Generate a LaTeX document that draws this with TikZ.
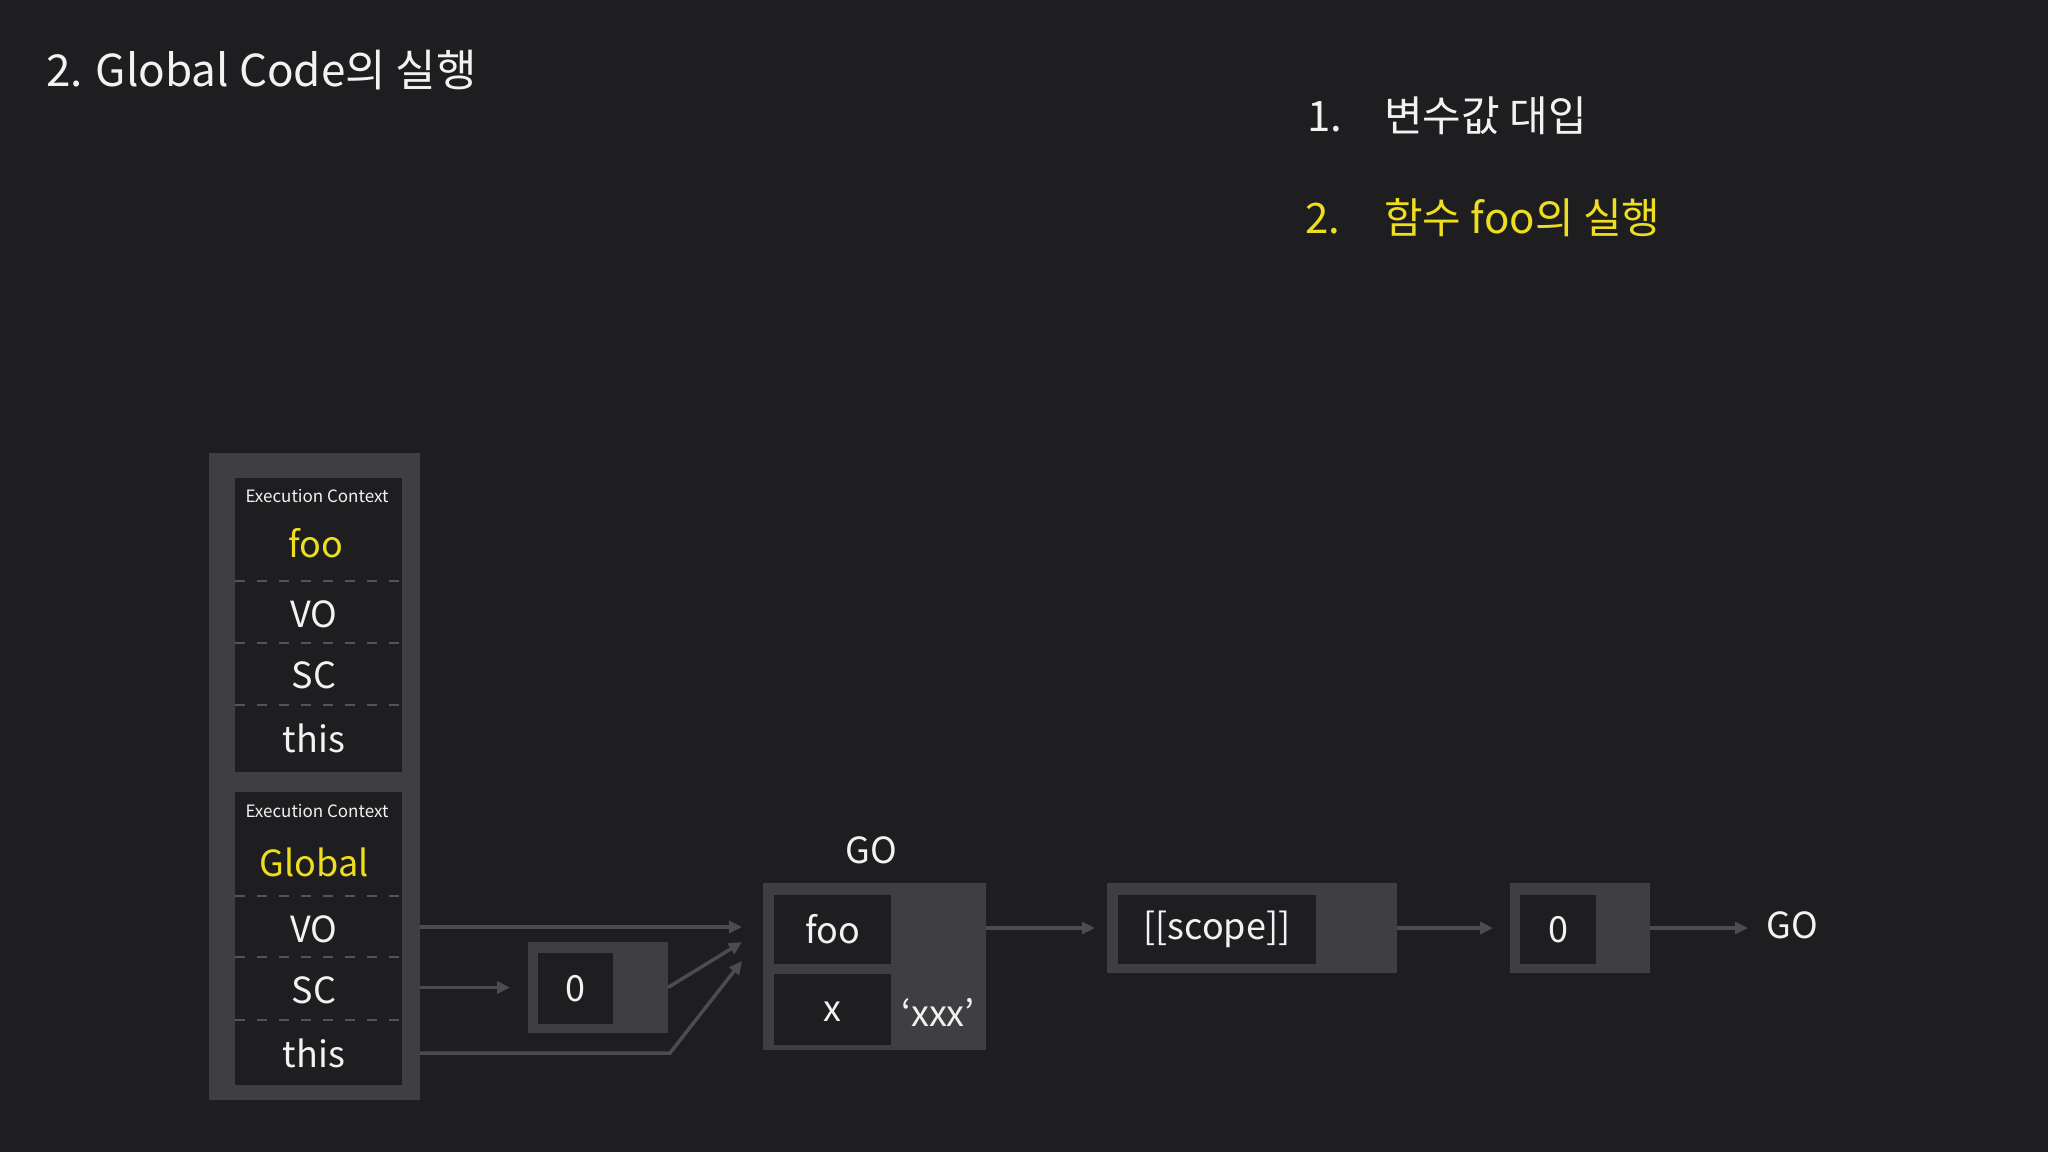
\documentclass[tikz,border=0pt]{standalone}
\usepackage{fontspec}
\setmainfont{Noto Sans CJK KR}
\usepackage{xcolor}
\usetikzlibrary{arrows.meta}
\definecolor{bgcol}{RGB}{30,30,32}
\definecolor{boxgray}{RGB}{63,62,65}
\definecolor{cellcol}{RGB}{30,29,32}
\definecolor{arrowgray}{RGB}{76,76,78}
\definecolor{dashgray}{RGB}{84,84,87}
\definecolor{hiyellow}{RGB}{238,222,32}
\definecolor{txtwhite}{RGB}{242,242,242}

\begin{document}
\begin{tikzpicture}[x=1pt,y=-1pt,
		panel/.style={fill=boxgray,inner sep=0pt,outer sep=0pt},
		cell/.style={fill=cellcol,inner sep=0pt,outer sep=0pt},
		word/.style={text=txtwhite,inner sep=0pt,font=\fontsize{36}{40}\selectfont},
		hiword/.style={word,text=hiyellow},
		ectag/.style={word,font=\fontsize{17}{20}\selectfont},
		headline/.style={word,anchor=base west,font=\fontsize{42}{48}\selectfont},
		rowline/.style={draw=dashgray,line width=2.5pt,dash pattern=on 10pt off 12pt},
		link/.style={draw=arrowgray,line width=3.5pt,-{Triangle[length=13pt,width=12pt]}}]
		\fill[bgcol] (0,0) rectangle (2048,1152);
		\useasboundingbox (0,0) rectangle (2048,1152);
		
		\node[word,anchor=base west,font=\fontsize{44}{50}\selectfont] (title) at (46,86) {2. Global Code의 실행};
		\node[headline] (num1) at (1307,131) {1.};
		\node[headline] (step1) at (1384,131) {변수값 대입};
		\node[headline,text=hiyellow] (num2) at (1305,233) {2.};
		\node[headline,text=hiyellow] (step2) at (1384,233) {함수 foo의 실행};
		
		\node[panel,minimum width=211pt,minimum height=647pt] (stack) at (314,776.5) {};
		\node[cell,minimum width=167pt,minimum height=294pt] (fooctx) at (318.5,625) {};
		\node[cell,minimum width=167pt,minimum height=293pt] (globalctx) at (318.5,938.5) {};
		
		\node[ectag] (fooec) at (317,496) {Execution Context};
		\node[hiword] (foolbl) at (316,543) {foo};
		\node[word] (foovo) at (314,614) {VO};
		\node[word] (foosc) at (314,675) {SC};
		\node[word] (foothis) at (314,738) {this};
		\draw[rowline] (fooctx.west |- 0,581) -- (fooctx.east |- 0,581);
		\draw[rowline] (fooctx.west |- 0,643) -- (fooctx.east |- 0,643);
		\draw[rowline] (fooctx.west |- 0,705) -- (fooctx.east |- 0,705);
		
		\node[ectag] (gec) at (317,811) {Execution Context};
		\node[hiword] (glbl) at (314,862) {Global};
		\node[word] (gvo) at (314,929) {VO};
		\node[word] (gsc) at (314,990) {SC};
		\node[word] (gthis) at (314,1053) {this};
		\draw[rowline] (globalctx.west |- 0,896) -- (globalctx.east |- 0,896);
		\draw[rowline] (globalctx.west |- 0,957) -- (globalctx.east |- 0,957);
		\draw[rowline] (globalctx.west |- 0,1020) -- (globalctx.east |- 0,1020);
		
		\node[panel,minimum width=140pt,minimum height=91pt] (zerobox) at (598,987.5) {};
		\node[cell,minimum width=75pt,minimum height=71pt] (zerocell) at (575.5,988.5) {};
		\node[word] (zeroval) at (zerocell) {0};
		
		\node[word] (golbl) at (871,850) {GO};
		\node[panel,minimum width=223pt,minimum height=167pt] (gobox) at (874.5,966.5) {};
		\node[cell,minimum width=117pt,minimum height=69pt] (foocell) at (832.5,929.5) {};
		\node[cell,minimum width=117pt,minimum height=71pt] (xcell) at (832.5,1009.5) {};
		\node[word] (fooname) at (foocell) {foo};
		\node[word] (xname) at (832.5,1012) {x};
		\node[word] (xval) at (938,1012) {‘xxx’};
		
		\node[panel,minimum width=290pt,minimum height=90pt] (scopebox) at (1252,928) {};
		\node[cell,minimum width=198pt,minimum height=69pt] (scopecell) at (1217,929.5) {};
		\node[word] (scopename) at (scopecell) {[[scope]]};
		
		\node[panel,minimum width=140pt,minimum height=90pt] (zerobox2) at (1580,928) {};
		\node[cell,minimum width=76pt,minimum height=69pt] (zerocell2) at (1558,929.5) {};
		\node[word] (zeroval2) at (zerocell2) {0};
		\node[word] (goend) at (1792,925) {GO};
		
		\coordinate (hit1) at (742,927);
		\coordinate (hit2) at (742,942);
		\coordinate (hit3) at (742,961);
		\coordinate (bend) at (670,1053);
		
		\draw[link] (stack.east |- hit1) -- (hit1);
		\draw[link,shorten >=18pt] (stack.east |- zerobox) -- (zerobox.west);
		\draw[link] (zerobox.east) -- (hit2);
		\draw[link] (stack.east |- bend) -- (bend) -- (hit3);
		\draw[link,shorten >=12pt] (gobox.east |- scopebox) -- (scopebox.west);
		\draw[link,shorten >=17pt] (scopebox.east) -- (zerobox2.west);
		\draw[link,shorten >=18pt] (zerobox2.east) -- (zerobox2.east -| goend.west);
	\end{tikzpicture}
\end{document}
